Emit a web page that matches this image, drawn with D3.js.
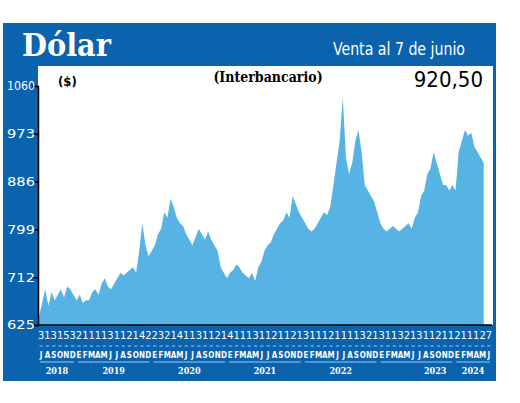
<!DOCTYPE html>
<html><head><meta charset="utf-8">
<script src="https://cdn.jsdelivr.net/npm/d3@7"></script>
<style>body{margin:0;background:#fff}text{font-family:"DejaVu Sans",sans-serif;font-stretch:condensed}</style>
</head><body><svg id="c" width="520" height="403"></svg>
<script>
// two readings per month, Jul 2018 .. Jun 2024
const values = [
 640,665, 690,660, 685,670, 680,690, 675,695, 690,680,
 670,680, 665,670, 670,685, 690,680, 700,710, 695,690, 700,710, 720,715, 720,725, 730,720, 760,810, 770,750,
 760,770, 790,800, 830,820, 855,840, 820,810, 805,790, 780,770, 785,800, 790,780, 795,780, 770,760, 730,720,
 710,720, 725,735, 730,720, 715,710, 720,705, 730,740, 760,770, 775,790, 800,810, 815,830, 820,860, 845,830,
 820,810, 800,795, 800,810, 820,830, 825,840, 880,920, 960,1040, 930,900, 920,960, 980,940, 880,870, 860,850,
 830,810, 800,795, 800,805, 800,795, 800,805, 810,800, 820,830, 860,870, 900,910, 940,920, 900,880, 880,870,
 880,870, 940,960, 980,970, 975,950, 940,930, 920
];
const yTicks = [625, 712, 799, 886, 973, 1060];
const dayLabels = "3 1 3 1 5 3 2 1 1 1 1 3 1 1 2 1 4 2 2 3 2 1 4 1 1 3 1 1 2 1 4 1 1 1 3 1 1 2 1 1 2 1 3 1 1 1 2 1 1 1 1 3 2 1 3 1 1 3 2 1 3 1 1 2 1 1 2 1 1 1 2 7".split(" ");
const monthLetters = "JASONDEFMAMJJASONDEFMAMJJASONDEFMAMJJASONDEFMAMJJASONDEFMAMJJASONDEFMAMJ".split("");
const years = [["2018",0,6],["2019",6,18],["2020",18,30],["2021",30,42],["2022",42,54],["2023",54,66],["2024",66,72]];

const blue = "#0b62ad", light = "#57b3e3";
const svg = d3.select("#c");
const L = 38, R = 490, T = 86, B = 325;
svg.append("rect").attr("x",3).attr("y",23).attr("width",493).attr("height",358).attr("fill",blue);
svg.append("rect").attr("x",L).attr("y",66).attr("width",R-L+3).attr("height",B-66).attr("fill","#fff");
svg.append("text").attr("x",22).attr("y",56).attr("fill","#fff").attr("font-size",32).attr("font-weight","bold")
  .style("font-family","'DejaVu Serif',serif").text("Dólar");
svg.append("text").attr("x",465).attr("y",55).attr("text-anchor","end").attr("fill","#fff").attr("font-size",17)
  .attr("textLength",132).attr("lengthAdjust","spacingAndGlyphs").text("Venta al 7 de junio");
svg.append("text").attr("x",58).attr("y",86).attr("font-size",13).attr("font-weight","bold").text("($)");
svg.append("text").attr("x",268).attr("y",82).attr("text-anchor","middle").attr("font-size",14).attr("font-weight","bold")
  .style("font-family","'DejaVu Serif',serif").text("(Interbancario)");
svg.append("text").attr("x",483).attr("y",87).attr("text-anchor","end").attr("font-size",22).text("920,50");

const x = d3.scaleLinear().domain([0, 72]).range([L+1, R]);
const y = d3.scaleLinear().domain([625, 1060]).range([B, T]);
const area = d3.area().x((d,i)=>x(i/2)).y0(B).y1(d=>y(d));
svg.append("path").datum(values).attr("d",area).attr("fill",light);

const ax = svg.append("g").attr("transform",`translate(${L},0)`).call(d3.axisLeft(y).tickValues(yTicks).tickSize(6).tickFormat(d3.format("d")));
ax.select(".domain").attr("stroke","#000").attr("stroke-width",1.5);
ax.selectAll(".tick line").attr("stroke","#000").attr("stroke-width",1.5);
ax.selectAll(".tick text").attr("fill","#fff").attr("font-size",12).attr("x",-3).attr("textLength",28).attr("lengthAdjust","spacingAndGlyphs");
svg.append("line").attr("x1",L).attr("x2",R+2).attr("y1",B).attr("y2",B).attr("stroke","#000").attr("stroke-width",1.5);

const bx = d3.scaleBand().domain(d3.range(72)).range([L, R+2]);
svg.append("g").selectAll("text").data(dayLabels).join("text")
  .attr("x",(d,i)=>bx(i)+bx.bandwidth()/2).attr("y",339).attr("text-anchor","middle")
  .attr("fill","#fff").attr("font-size",11).text(d=>d);
svg.append("g").selectAll("line").data(dayLabels).join("line")
  .attr("x1",(d,i)=>bx(i)+1.5).attr("x2",(d,i)=>bx(i)+bx.bandwidth()-1.5).attr("y1",346).attr("y2",346)
  .attr("stroke","#9cc8ec").attr("stroke-width",1);
svg.append("g").selectAll("text").data(monthLetters).join("text")
  .attr("x",(d,i)=>bx(i)+bx.bandwidth()/2).attr("y",358).attr("text-anchor","middle")
  .attr("fill","#fff").attr("font-size",8).attr("font-weight","bold").text(d=>d);
const yg = svg.append("g").selectAll("g").data(years).join("g");
yg.append("line").attr("x1",d=>bx(d[1])+2).attr("x2",d=>bx(d[2]-1)+bx.bandwidth()-2).attr("y1",362).attr("y2",362)
  .attr("stroke","#9cc8ec");
yg.append("text").attr("x",d=>d[0]==="2023"?bx(d[1])+bx.bandwidth()*9:(bx(d[1])+bx(d[2]-1)+bx.bandwidth())/2)
  .attr("y",374).attr("text-anchor","middle").attr("fill","#fff").attr("font-size",9).attr("font-weight","bold")
  .style("font-family","'DejaVu Serif',serif").text(d=>d[0]);
</script></body></html>
